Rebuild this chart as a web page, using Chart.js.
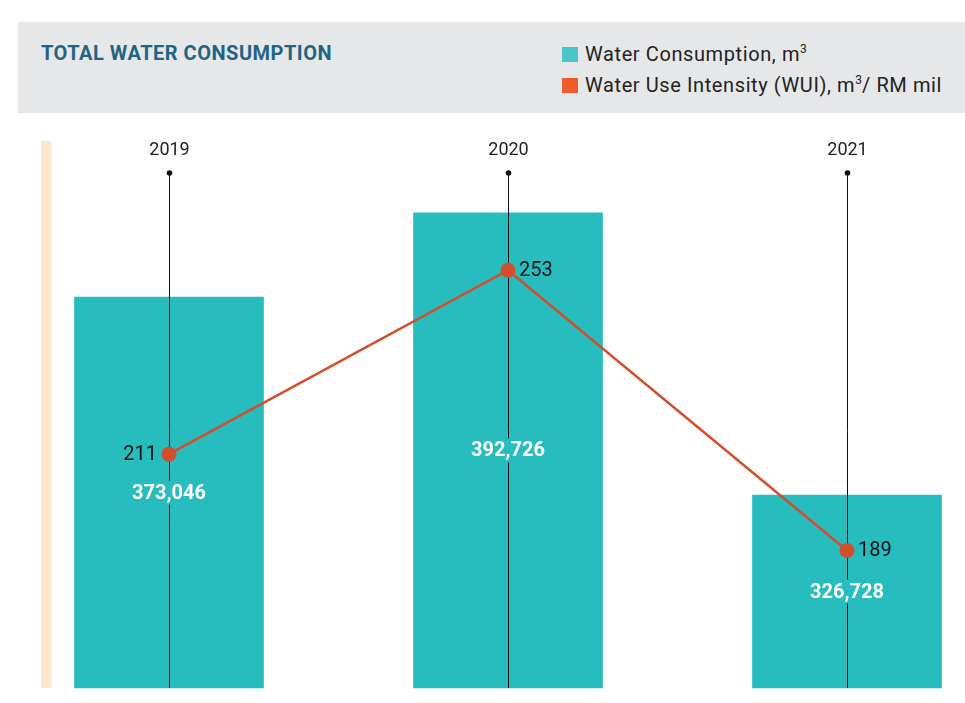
<!DOCTYPE html>
<html>
<head>
<meta charset="utf-8">
<title>Total Water Consumption</title>
<script src="https://cdn.jsdelivr.net/npm/chart.js@4/dist/chart.umd.min.js"></script>
<style>
  html, body { margin: 0; padding: 0; background: #fff; }
  #wrap { position: relative; width: 965px; height: 703px; overflow: hidden;
          font-family: Roboto, "Noto Sans", "DejaVu Sans", sans-serif; }
  #head { position: absolute; left: 18px; top: 22px; width: 947px; height: 91px; background: #e6e7e8; }
  #title { position: absolute; left: 23px; top: 19px; font-weight: 700; font-size: 20px;
           line-height: 24px; color: #1f6485; letter-spacing: 0.5px; white-space: nowrap; }
  .leg { position: absolute; left: 544px; height: 24px; line-height: 24px; font-size: 20px;
         letter-spacing: 0.6px; color: #222; white-space: nowrap; }
  .leg i { position: absolute; left: 0; top: 5px; width: 16px; height: 15px; }
  .leg span { position: absolute; left: 23px; top: 0; }
  .leg sup { font-size: 12px; vertical-align: 0; position: relative; top: -8px; letter-spacing: 0; }
  #strip { position: absolute; left: 41px; top: 141px; width: 10px; height: 547px; background: #fde6cc; }
  #chart { position: absolute; left: 0; top: 0; }
</style>
</head>
<body>
<div id="wrap">
  <div id="head">
    <div id="title">TOTAL WATER CONSUMPTION</div>
    <div class="leg" style="top:20px"><i style="background:#4bc5c8"></i><span>Water Consumption, m<sup>3</sup></span></div>
    <div class="leg" style="top:51px"><i style="background:#f15a29"></i><span>Water Use Intensity (WUI), m<sup>3</sup>/ RM mil</span></div>
  </div>
  <div id="strip"></div>
  <canvas id="chart" width="965" height="703"></canvas>
</div>
<script>
// Reporting years
const years = ['2019', '2020', '2021'];
// Water consumption, m3
const consumption = [373046, 392726, 326728];
// Water use intensity, m3 / RM mil
const wui = [211, 253, 189];

const barColor = '#27bcbe';
const lineColor = '#d44d2c';
const consumptionMin = 281650;

// Year guides, bar value labels and WUI labels
const annotate = {
  id: 'annotate',
  beforeDatasetDraw(chart, args) {
    if (args.meta.type !== 'line') return;
    const { ctx, chartArea } = chart;
    const x = chart.scales.x;
    ctx.save();
    years.forEach((yr, i) => {
      const px = Math.round(x.getPixelForValue(i)) + 0.5;
      ctx.strokeStyle = '#111';
      ctx.lineWidth = 1;
      ctx.beginPath();
      ctx.moveTo(px, chartArea.top);
      ctx.lineTo(px, chartArea.bottom);
      ctx.stroke();
      ctx.beginPath();
      ctx.arc(px, chartArea.top, 2.8, 0, Math.PI * 2);
      ctx.fillStyle = '#111';
      ctx.fill();
      ctx.font = '18px Roboto';
      ctx.textAlign = 'center';
      ctx.textBaseline = 'middle';
      ctx.fillStyle = '#222';
      ctx.fillText(yr, px, chartArea.top - 23);
    });
    chart.getDatasetMeta(0).data.forEach((bar, i) => {
      const p = bar.getProps(['x', 'y', 'base'], true);
      const cy = (p.y + p.base) / 2;
      const text = consumption[i].toLocaleString('en-US');
      ctx.font = 'bold 20px Roboto';
      ctx.textAlign = 'center';
      ctx.textBaseline = 'middle';
      const w = ctx.measureText(text).width;
      ctx.fillStyle = barColor;
      ctx.fillRect(p.x - w / 2 - 3, cy - 12, w + 6, 24);
      ctx.fillStyle = '#fff';
      ctx.fillText(text, p.x, cy + 1);
    });
    ctx.restore();
  },
  afterDatasetsDraw(chart) {
    const { ctx } = chart;
    ctx.save();
    ctx.font = '20px Roboto';
    ctx.textBaseline = 'middle';
    ctx.fillStyle = '#111';
    chart.getDatasetMeta(1).data.forEach((pt, i) => {
      const first = i === 0;
      ctx.textAlign = first ? 'right' : 'left';
      ctx.fillText(String(wui[i]), pt.x + (first ? -12 : 11), pt.y + 1);
    });
    ctx.restore();
  }
};

new Chart(document.getElementById('chart'), {
  data: {
    labels: years,
    datasets: [
      {
        type: 'bar',
        label: 'Water Consumption, m³',
        data: consumption,
        yAxisID: 'y',
        base: consumptionMin,
        backgroundColor: barColor,
        barThickness: 189,
        clip: false,
        order: 1
      },
      {
        type: 'line',
        label: 'Water Use Intensity (WUI), m³/ RM mil',
        data: wui,
        yAxisID: 'y2',
        borderColor: lineColor,
        borderWidth: 2.5,
        pointRadius: 7.5,
        pointBackgroundColor: lineColor,
        pointBorderWidth: 0,
        pointHoverRadius: 7.5,
        clip: false,
        order: 0
      }
    ]
  },
  options: {
    responsive: false,
    animation: false,
    devicePixelRatio: 1,
    layout: { padding: { top: 173, bottom: 15, left: 169, right: 118 } },
    plugins: { legend: { display: false }, tooltip: { enabled: false } },
    scales: {
      x: { type: 'category', offset: false, display: false },
      y: { display: false, min: consumptionMin, max: 402035 },
      y2: { display: false, min: 157.6, max: 275.2 }
    }
  },
  plugins: [annotate]
});
</script>
</body>
</html>
